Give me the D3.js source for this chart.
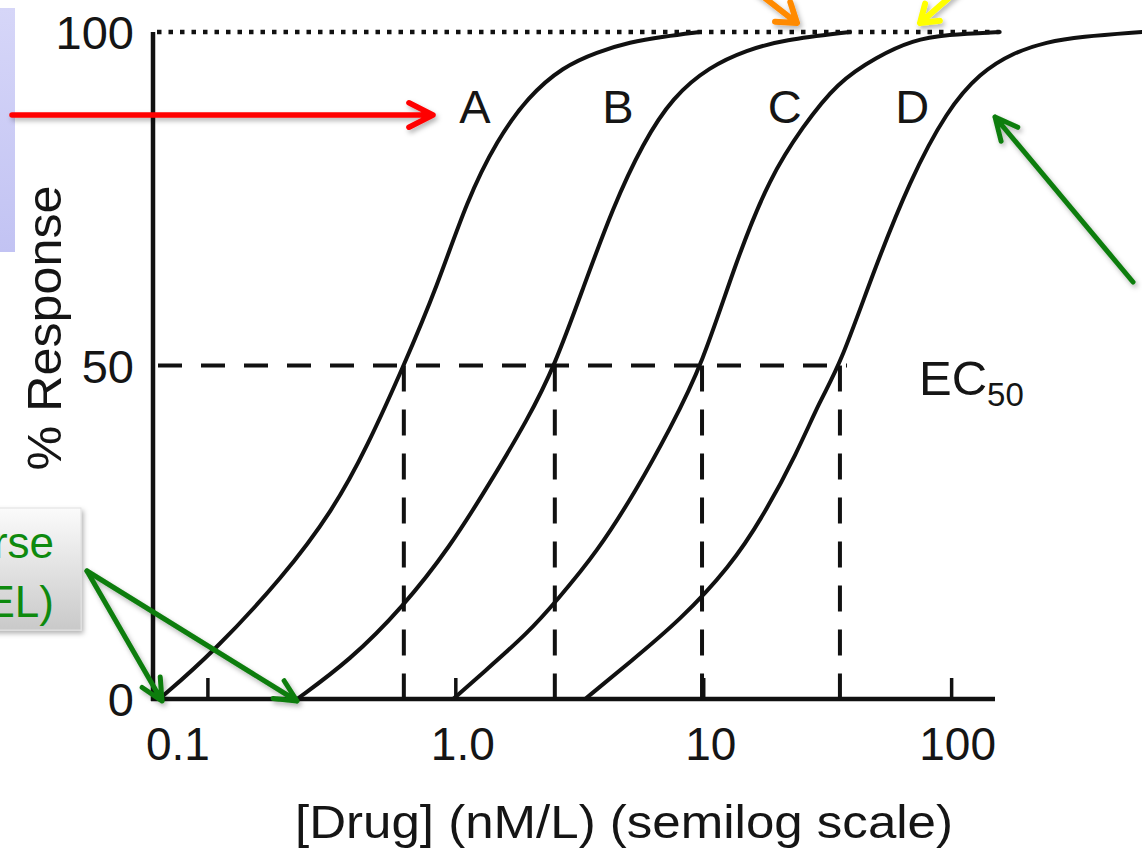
<!DOCTYPE html>
<html>
<head>
<meta charset="utf-8">
<script src="https://cdn.jsdelivr.net/npm/d3@7"></script>
<style>
  html, body { margin: 0; padding: 0; background: #ffffff; }
  svg { display: block; }
  text { font-family: "Liberation Sans", Arial, Helvetica, sans-serif; fill: #151515; }
</style>
</head>
<body>
<svg id="chart" width="1142" height="865"></svg>
<script>
// ---------------- data ----------------
const curveNames = ["A", "B", "C", "D"];

const doseA = [0.064, 0.105, 0.202, 0.321, 0.441, 0.62, 0.844, 1.115, 1.473, 1.965, 2.72, 3.73, 5.07, 6.89, 9.7];
const respA = [0, 6.9, 18.3, 28.3, 37.8, 50, 61.8, 74.8, 83.8, 90.3, 94.8, 97.0, 98.5, 99.3, 100];

const doseB = [0.23, 0.376, 0.615, 0.952, 1.38, 1.965, 2.52, 3.27, 4.33, 5.72, 7.55, 10.6, 15.0, 21.0, 39.1];
const respB = [0, 5.8, 13.8, 22.8, 32.4, 42.0, 50, 61.5, 73.8, 83.4, 90.3, 94.8, 97.3, 98.8, 100];

const doseC = [0.98, 1.29, 1.965, 2.57, 3.73, 5.41, 7.34, 9.89, 13.6, 18.6, 25.2, 34.6, 50.2, 70.2, 95.8, 157];
const respC = [0, 3.9, 9.9, 14.8, 22.0, 31.5, 40.5, 50, 65.8, 78.3, 85.8, 92.4, 96.3, 98.8, 99.6, 100];

const doseD = [3.34, 5.05, 8.06, 12.8, 17.4, 23.9, 29.6, 35.6, 48.4, 68.2, 96.3, 130.9, 177.8, 243, 331, 589];
const respD = [0, 5.5, 11.8, 19.8, 27.3, 36.9, 44.8, 50, 63.9, 77.8, 88.3, 93.9, 96.9, 98.5, 99.3, 100];

const ec50Dose = [0.62, 2.52, 9.89, 35.6];
const ec50Resp = 50;
const dashedRefEnd = 38;          // dose where the 50% dashed line stops
const maxRefEnd = 157;            // dose where the 100% dotted line stops

const xTickValues = [0.1, 1, 10, 100];
const xTickLabels = ["0.1", "1.0", "10", "100"];
const yTickValues = [0, 50, 100];
const yTickLabels = ["0", "50", "100"];

const labelDose = [1.2, 4.53, 21.3, 69.7];
const labelResp = 86.4;

const xDomain = [0.0609, 150.3];
const yDomain = [0, 100];

const xTitle = "[Drug] (nM/L) (semilog scale)";
const yTitle = "% Response";

// ---------------- build ----------------
const svg = d3.select("#chart");
const defs = svg.append("defs");

const x = d3.scaleLog().domain(xDomain).range([154, 995]);
const y = d3.scaleLinear().domain(yDomain).range([699, 32]);

const sh = defs.append("filter").attr("id", "shadow").attr("x", "-20%").attr("y", "-20%").attr("width", "150%").attr("height", "150%");
sh.append("feDropShadow").attr("dx", 2).attr("dy", 3).attr("stdDeviation", 2.5).attr("flood-color", "#000").attr("flood-opacity", 0.3);
const gBox = defs.append("linearGradient").attr("id", "grayBox").attr("x1", 0).attr("y1", 0).attr("x2", 0).attr("y2", 1);
gBox.append("stop").attr("offset", "0%").attr("stop-color", "#fbfbfb");
gBox.append("stop").attr("offset", "100%").attr("stop-color", "#c9c9c9");
const lBox = defs.append("linearGradient").attr("id", "lavBox").attr("x1", 0).attr("y1", 0).attr("x2", 0).attr("y2", 1);
lBox.append("stop").attr("offset", "0%").attr("stop-color", "#d6d6f8");
lBox.append("stop").attr("offset", "100%").attr("stop-color", "#c2c3f3");

// lavender box (cut by left edge)
svg.append("rect").attr("x", -10).attr("y", 8).attr("width", 25).attr("height", 244)
  .attr("fill", "url(#lavBox)");

// 100% dotted reference
svg.append("line")
  .attr("x1", x(xDomain[0]) + 3).attr("x2", x(maxRefEnd))
  .attr("y1", y(100)).attr("y2", y(100))
  .attr("stroke", "#111").attr("stroke-width", 4.5).attr("stroke-dasharray", "4.5 7");

// 50% dashed reference + EC50 verticals
svg.append("line")
  .attr("x1", x(xDomain[0]) + 4).attr("x2", x(dashedRefEnd))
  .attr("y1", y(ec50Resp)).attr("y2", y(ec50Resp))
  .attr("stroke", "#111").attr("stroke-width", 4).attr("stroke-dasharray", "24 19");
svg.selectAll("line.ec50").data(ec50Dose).join("line").attr("class", "ec50")
  .attr("x1", d => x(d)).attr("x2", d => x(d))
  .attr("y1", y(ec50Resp)).attr("y2", y(0))
  .attr("stroke", "#111").attr("stroke-width", 4).attr("stroke-dasharray", "26 18");

// axes
const xAxis = d3.axisBottom(x).tickValues(xTickValues)
  .tickFormat((d, i) => xTickLabels[i]).tickSizeInner(-21).tickSizeOuter(0);
const gx = svg.append("g").attr("transform", `translate(0,${y(0)})`).call(xAxis);
gx.select(".domain").attr("stroke", "#111").attr("stroke-width", 4.5)
  .attr("d", `M151,0H${x(xDomain[1])}`);
gx.selectAll(".tick line").attr("stroke", "#111").attr("stroke-width", 3.5);
const xLabelDx = [-30, 7, 7, 6];
gx.selectAll(".tick text")
  .attr("y", 61).attr("dy", 0)
  .attr("dx", (d, i) => xLabelDx[i])
  .attr("font-size", 46).attr("font-family", "Liberation Sans, Arial, sans-serif")
  .attr("fill", "#151515");

const yAxis = d3.axisLeft(y).tickValues(yTickValues)
  .tickFormat((d, i) => yTickLabels[i]).tickSize(0).tickPadding(19);
const gy = svg.append("g").attr("transform", `translate(153,0)`).call(yAxis);
gy.select(".domain").attr("stroke", "#111").attr("stroke-width", 4.5)
  .attr("d", `M0,${y(100)}V${y(0) + 2}`);
gy.selectAll(".tick text")
  .attr("dy", "0.36em")
  .attr("font-size", 47).attr("font-family", "Liberation Sans, Arial, sans-serif")
  .attr("fill", "#151515");

// curves
const series = [
  { name: "A", dose: doseA, resp: respA },
  { name: "B", dose: doseB, resp: respB },
  { name: "C", dose: doseC, resp: respC },
  { name: "D", dose: doseD, resp: respD }
];
const line = d3.line()
  .x(d => x(d[0])).y(d => y(d[1]))
  .curve(d3.curveBasis);
svg.selectAll("path.curve").data(series).join("path").attr("class", "curve")
  .attr("d", s => line(s.dose.map((v, i) => [v, s.resp[i]])))
  .attr("fill", "none").attr("stroke", "#111").attr("stroke-width", 4)
  .attr("stroke-linecap", "round");

// curve letters
svg.selectAll("text.clabel").data(curveNames).join("text").attr("class", "clabel")
  .attr("x", (d, i) => x(labelDose[i])).attr("y", y(labelResp))
  .attr("text-anchor", "middle").attr("font-size", 47)
  .text(d => d);

// EC50 label
const ec = svg.append("text").attr("x", 919).attr("y", 395).attr("font-size", 49);
ec.append("tspan").text("EC");
ec.append("tspan").attr("font-size", 33).attr("dy", 11).text("50");

// axis titles
svg.append("text").attr("x", 624).attr("y", 838).attr("text-anchor", "middle")
  .attr("font-size", 46).attr("textLength", 658).attr("lengthAdjust", "spacingAndGlyphs")
  .text(xTitle);
svg.append("text").attr("transform", "translate(61,328) rotate(-90)")
  .attr("text-anchor", "middle").attr("font-size", 48).attr("textLength", 285)
  .attr("lengthAdjust", "spacingAndGlyphs").text(yTitle);

// ---------------- annotations ----------------
function arrow(g, x1, y1, x2, y2, color, w, len, ang) {
  const a = Math.atan2(y1 - y2, x1 - x2);
  const p1 = [x2 + len * Math.cos(a + ang), y2 + len * Math.sin(a + ang)];
  const p2 = [x2 + len * Math.cos(a - ang), y2 + len * Math.sin(a - ang)];
  g.append("path")
    .attr("d", `M${x1},${y1}L${x2},${y2}M${p1[0]},${p1[1]}L${x2},${y2}L${p2[0]},${p2[1]}`)
    .attr("fill", "none").attr("stroke", color).attr("stroke-width", w)
    .attr("stroke-linecap", "round").attr("stroke-linejoin", "round");
}

// green box (cut by left edge, as in the reference)
svg.append("rect").attr("x", -10).attr("y", 508).attr("width", 91).attr("height", 122)
  .attr("fill", "url(#grayBox)").attr("stroke", "#e0e0e0").attr("stroke-width", 1)
  .attr("filter", "url(#shadow)");
svg.append("text").attr("x", 54).attr("y", 558).attr("text-anchor", "end")
  .attr("font-size", 44).style("fill", "#0e8a0e").text("rse");
svg.append("text").attr("x", 54).attr("y", 617).attr("text-anchor", "end")
  .attr("font-size", 44).style("fill", "#0e8a0e").text("EL)");

const ann = svg.append("g").attr("filter", "url(#shadow)");
arrow(ann, 12, 115, 433, 115, "#ff0000", 5.5, 27, 0.47);
arrow(ann, 752, -12, 797, 23, "#ff8a00", 6, 22, 0.6);
arrow(ann, 958, -10, 920, 23, "#ffff00", 6, 20, 0.6);
arrow(ann, 87, 571, 162, 701, "#0b7d0b", 5, 24, 0.45);
arrow(ann, 87, 571, 297, 701, "#0b7d0b", 5, 24, 0.45);
arrow(ann, 1133, 282, 995, 117, "#0b7d0b", 5, 25, 0.45);
</script>
</body>
</html>
